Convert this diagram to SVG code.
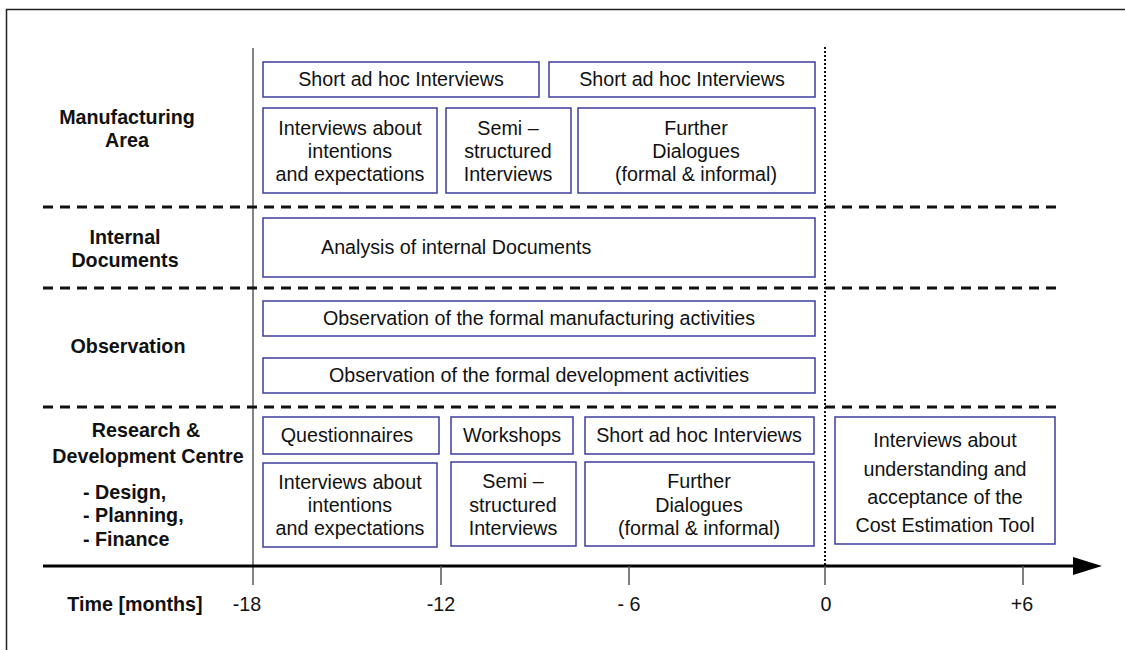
<svg xmlns="http://www.w3.org/2000/svg" width="1125" height="650" viewBox="0 0 1125 650">
  <style>
    .box { fill: #ffffff; stroke: #3c3ca0; stroke-width: 1.5; }
    .t { font-family: "Liberation Sans", Arial, sans-serif; font-size: 19.7px; fill: #111; text-anchor: middle; }
    .lbl { font-family: "Liberation Sans", Arial, sans-serif; font-size: 19.7px; font-weight: bold; fill: #111; text-anchor: middle; }
    .start { text-anchor: start; }
    .sep { stroke: #111; stroke-width: 3; stroke-dasharray: 10 7; fill: none; }
    .tick { stroke: #555; stroke-width: 1.5; }
  </style>
  <defs>
    <marker id="arrow" viewBox="0 0 29 18" refX="0" refY="9" markerUnits="userSpaceOnUse" markerWidth="29" markerHeight="18" orient="auto">
      <path d="M0,0 L29,9 L0,18 Z" fill="#000"/>
    </marker>
  </defs>

  <rect width="1125" height="650" fill="#fff"/>
  <!-- frame (open to the right and bottom) -->
  <path d="M6.5,650 V9.5 H1125" fill="none" stroke="#222" stroke-width="1.5"/>

  <!-- row labels -->
  <g id="row-labels">
    <text class="lbl" x="127" y="124">Manufacturing</text>
    <text class="lbl" x="127" y="147">Area</text>
    <text class="lbl" x="125" y="244">Internal</text>
    <text class="lbl" x="125" y="267">Documents</text>
    <text class="lbl" x="128" y="353">Observation</text>
    <text class="lbl" x="146" y="437">Research &amp;</text>
    <text class="lbl" x="148" y="463">Development Centre</text>
    <text class="lbl start" x="83" y="499">- Design,</text>
    <text class="lbl start" x="83" y="522">- Planning,</text>
    <text class="lbl start" x="83" y="546">- Finance</text>
  </g>

  <!-- grid: start line, separators, time axis -->
  <g id="connectors">
    <line x1="253" y1="48" x2="253" y2="585" stroke="#333" stroke-width="1.2"/>
    <line x1="825" y1="47" x2="825" y2="566" stroke="#111" stroke-width="2" stroke-dasharray="2 2"/>
    <line class="sep" x1="43" y1="207" x2="1057" y2="207"/>
    <line class="sep" x1="43" y1="288" x2="1057" y2="288"/>
    <line class="sep" x1="43" y1="407" x2="1057" y2="407"/>
    <line x1="43" y1="566" x2="1073" y2="566" stroke="#000" stroke-width="3" marker-end="url(#arrow)"/>
    <line class="tick" x1="441" y1="566" x2="441" y2="585"/>
    <line class="tick" x1="629" y1="566" x2="629" y2="585"/>
    <line class="tick" x1="825" y1="566" x2="825" y2="585"/>
    <line class="tick" x1="1023" y1="566" x2="1023" y2="585"/>
  </g>

  <!-- axis labels -->
  <g id="axis-labels">
    <text class="lbl" x="135" y="611">Time [months]</text>
    <text class="t" x="247" y="611">-18</text>
    <text class="t" x="441" y="611">-12</text>
    <text class="t" x="629" y="611">- 6</text>
    <text class="t" x="826" y="611">0</text>
    <text class="t" x="1022" y="611">+6</text>
  </g>

  <!-- manufacturing area -->
  <g id="m-short-1">
    <rect class="box" x="263" y="62" width="276" height="35"/>
    <text class="t" x="401" y="86">Short ad hoc Interviews</text>
  </g>
  <g id="m-short-2">
    <rect class="box" x="549" y="62" width="266" height="35"/>
    <text class="t" x="682" y="86">Short ad hoc Interviews</text>
  </g>
  <g id="m-interviews">
    <rect class="box" x="263" y="108" width="174" height="85"/>
    <text class="t" x="350" y="135">Interviews about</text>
    <text class="t" x="350" y="158">intentions</text>
    <text class="t" x="350" y="181">and expectations</text>
  </g>
  <g id="m-semi">
    <rect class="box" x="446" y="108" width="125" height="85"/>
    <text class="t" x="508" y="135">Semi –</text>
    <text class="t" x="508" y="158">structured</text>
    <text class="t" x="508" y="181">Interviews</text>
  </g>
  <g id="m-further">
    <rect class="box" x="578" y="108" width="237" height="85"/>
    <text class="t" x="696" y="135">Further</text>
    <text class="t" x="696" y="158">Dialogues</text>
    <text class="t" x="696" y="181">(formal &amp; informal)</text>
  </g>

  <!-- internal documents -->
  <g id="documents">
    <rect class="box" x="263" y="218" width="552" height="59"/>
    <text class="t start" x="321" y="254">Analysis of internal Documents</text>
  </g>

  <!-- observation -->
  <g id="obs-manufacturing">
    <rect class="box" x="263" y="301" width="552" height="35"/>
    <text class="t" x="539" y="325">Observation of the formal manufacturing activities</text>
  </g>
  <g id="obs-development">
    <rect class="box" x="263" y="358" width="552" height="35"/>
    <text class="t" x="539" y="382">Observation of the formal development activities</text>
  </g>

  <!-- research & development centre -->
  <g id="rd-questionnaires">
    <rect class="box" x="263" y="417" width="176" height="37"/>
    <text class="t" x="347" y="442">Questionnaires</text>
  </g>
  <g id="rd-workshops">
    <rect class="box" x="451" y="417" width="122" height="37"/>
    <text class="t" x="512" y="442">Workshops</text>
  </g>
  <g id="rd-short">
    <rect class="box" x="585" y="417" width="229" height="37"/>
    <text class="t" x="699" y="442">Short ad hoc Interviews</text>
  </g>
  <g id="rd-interviews">
    <rect class="box" x="263" y="463" width="174" height="84"/>
    <text class="t" x="350" y="489">Interviews about</text>
    <text class="t" x="350" y="512">intentions</text>
    <text class="t" x="350" y="535">and expectations</text>
  </g>
  <g id="rd-semi">
    <rect class="box" x="451" y="462" width="125" height="84"/>
    <text class="t" x="513" y="488">Semi –</text>
    <text class="t" x="513" y="512">structured</text>
    <text class="t" x="513" y="535">Interviews</text>
  </g>
  <g id="rd-further">
    <rect class="box" x="585" y="462" width="229" height="84"/>
    <text class="t" x="699" y="488">Further</text>
    <text class="t" x="699" y="512">Dialogues</text>
    <text class="t" x="699" y="535">(formal &amp; informal)</text>
  </g>
  <g id="rd-tool">
    <rect class="box" x="835" y="417" width="220" height="127"/>
    <text class="t" x="945" y="447">Interviews about</text>
    <text class="t" x="945" y="476">understanding and</text>
    <text class="t" x="945" y="504">acceptance of the</text>
    <text class="t" x="945" y="532">Cost Estimation Tool</text>
  </g>
</svg>
